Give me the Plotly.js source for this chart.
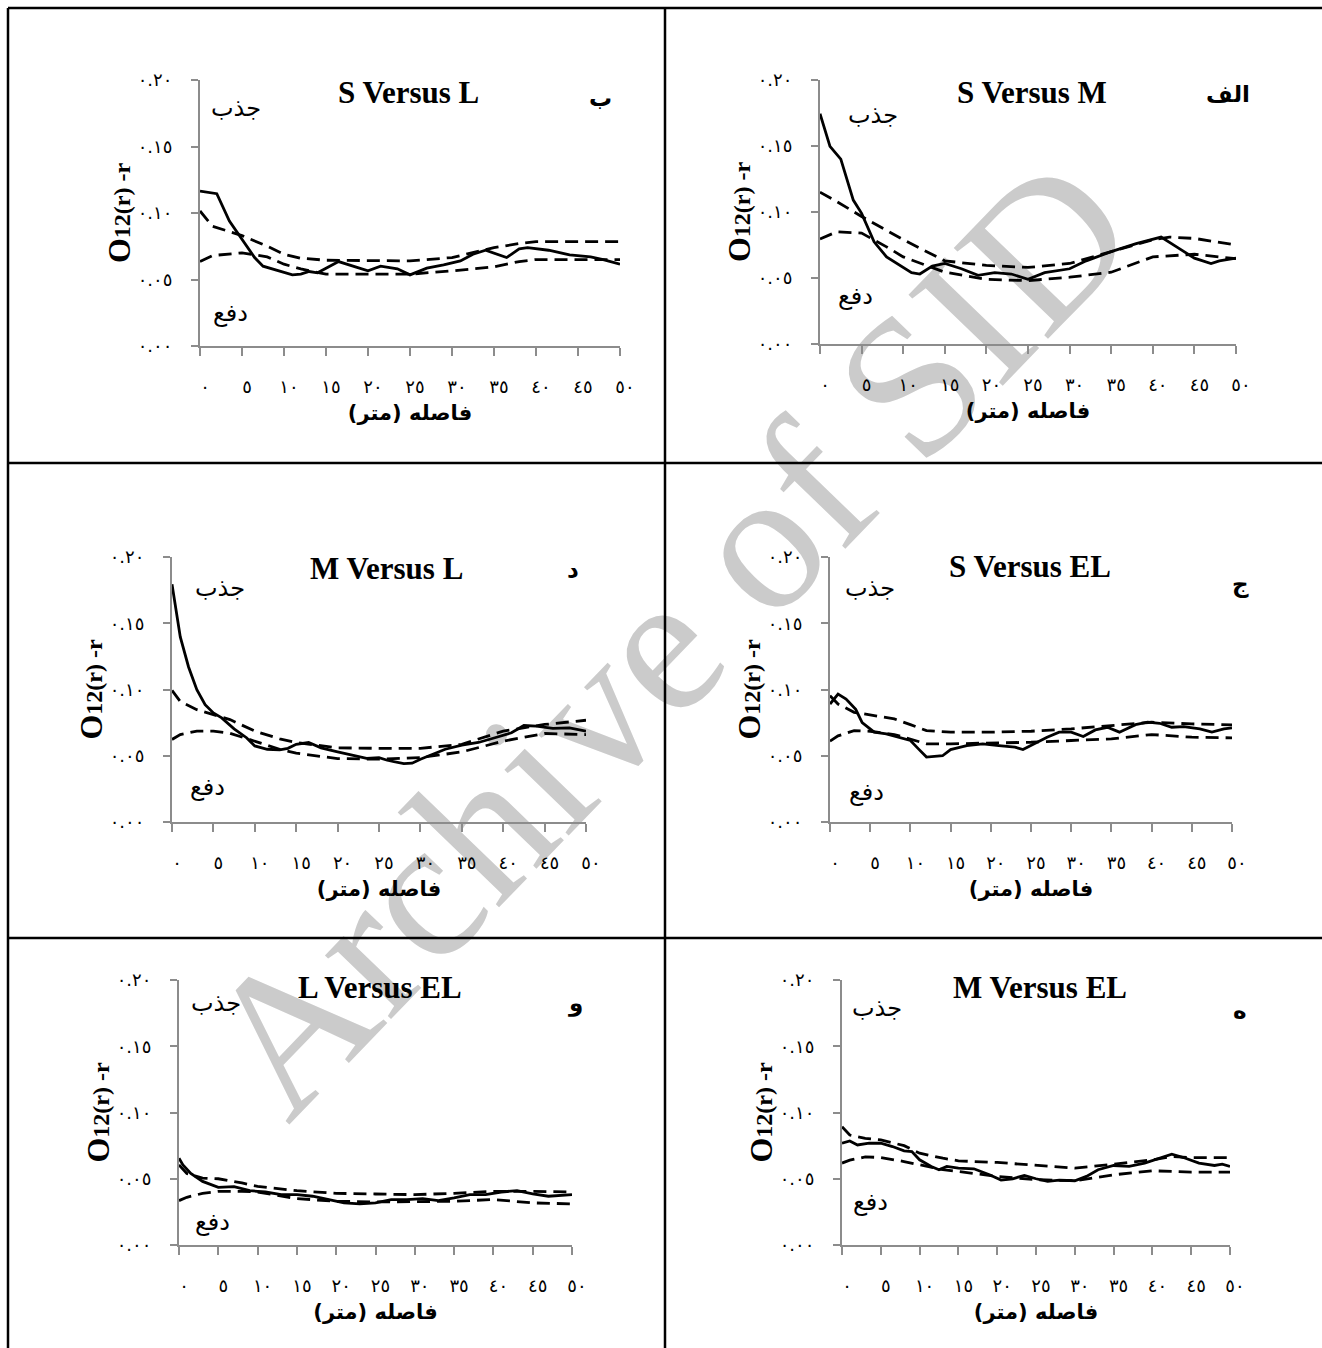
<!DOCTYPE html>
<html>
<head>
<meta charset="utf-8">
<script src="https://cdn.plot.ly/plotly-3.0.1.min.js"></script>
<style>
  html, body { margin:0; padding:0; background:#fff; }
  #wm { position:absolute; left:668px; top:636px; transform: translate(-50%,-50%) rotate(-46deg);
        font-family:'Liberation Serif', serif; font-size:200px; color:#cbcbcb; white-space:nowrap; z-index:0; line-height:1; }
  #chart { position:absolute; left:0; top:0; width:1322px; height:1348px; z-index:1; }
</style>
</head>
<body>
<div id="wm">Archive of SID</div>
<div id="chart"></div>
<script>
// ---------------- DATA ----------------
const xTickVals = [0,5,10,15,20,25,30,35,40,45,50];
const xTickText = ['٠','٥','١٠','١٥','٢٠','٢٥','٣٠','٣٥','٤٠','٤٥','٥٠'];
const yTickVals = [0,0.05,0.10,0.15,0.20];
const yTickText = ['٠.٠٠','٠.٠٥','٠.١٠','٠.١٥','٠.٢٠'];

const panelTitles = ['S Versus M','S Versus L','M Versus L','S Versus EL','L Versus EL','M Versus EL'];
const panelLetters = ['الف','ب','د','ج','و','ه'];
const attractLabel = 'جذب';
const repelLabel = 'دفع';
const xTitle = 'فاصله (متر)';

// (a) S Versus M
const sm_r = [0,1.2,2.5,4,5,6.5,8,10,11,12,13.5,15,17,19,21,23,25,27,30,32,35,38,40,41,43,45,47,48,50];
const sm_obs = [0.1745,0.1497,0.140,0.109,0.099,0.0774,0.066,0.058,0.054,0.053,0.059,0.061,0.057,0.052,0.054,0.053,0.049,0.054,0.057,0.063,0.070,0.076,0.079,0.081,0.073,0.065,0.061,0.063,0.065];
const sm_env_r = [0,2,5,8,10,15,20,25,30,35,40,42,45,50];
const sm_upper = [0.115,0.108,0.0966,0.086,0.079,0.063,0.0595,0.058,0.061,0.070,0.079,0.081,0.080,0.075];
const sm_lower = [0.0795,0.085,0.084,0.0736,0.066,0.0544,0.049,0.048,0.0506,0.0544,0.066,0.067,0.068,0.0646];

// (b) S Versus L
const sl_r = [0,2,3.5,5,6.5,7.5,9,11,12,13,14,16.5,18.5,20,21.5,23.5,25,27,29,31,32.5,34,36.5,38,39,41.5,44,46.5,48,50];
const sl_obs = [0.1165,0.1145,0.094,0.080,0.0665,0.060,0.057,0.0535,0.054,0.056,0.055,0.0635,0.0595,0.0565,0.060,0.058,0.0535,0.0585,0.061,0.064,0.069,0.072,0.0665,0.073,0.074,0.072,0.0685,0.067,0.065,0.0615];
const sl_env_r = [0,1.5,5,8,10,12,15,20,25,30,35,38,40,45,50];
const sl_upper = [0.1015,0.090,0.083,0.075,0.069,0.066,0.0645,0.0645,0.064,0.0665,0.074,0.077,0.0785,0.0785,0.0785];
const sl_lower = [0.0635,0.068,0.070,0.067,0.0615,0.058,0.054,0.054,0.054,0.0565,0.0595,0.0635,0.065,0.065,0.065];

// (d) M Versus L
const ml_r = [0,1,2,3,4,5,6,7.5,9,10,11.5,13,14,15,16.5,18,20,22,23.5,25,26,28,29,30,31,33,35,37,39,41,42.5,44,46,48,50];
const ml_obs = [0.1795,0.1397,0.117,0.0998,0.0885,0.0823,0.0786,0.0703,0.0636,0.0574,0.0549,0.0544,0.0556,0.0586,0.060,0.056,0.053,0.050,0.048,0.0486,0.0466,0.044,0.0444,0.0474,0.050,0.0549,0.058,0.060,0.0636,0.0673,0.0728,0.0723,0.0706,0.071,0.0686];
const ml_env_r = [0,1,3,5,7,10,13,15,20,25,30,35,40,45,50];
const ml_upper = [0.0993,0.091,0.0848,0.081,0.0773,0.0686,0.0628,0.060,0.056,0.0556,0.0556,0.0586,0.0686,0.0736,0.0768];
const ml_lower = [0.0623,0.066,0.0686,0.0686,0.067,0.061,0.0549,0.0519,0.0479,0.0474,0.0486,0.0529,0.061,0.0668,0.066];

// (c) S Versus EL
const sel_r = [0,1,2,3.2,4,5.5,7,8.5,10,11,12,14,15,17,19,21,23,24,25.5,27,28.5,30,31.5,33,34.5,36,38,39.5,41,42.5,44,46,47.5,49,50];
const sel_obs = [0.089,0.0966,0.0928,0.085,0.075,0.0678,0.0665,0.064,0.0615,0.0552,0.049,0.050,0.0547,0.0577,0.059,0.0577,0.0565,0.0547,0.0595,0.064,0.0678,0.0678,0.0645,0.0695,0.0715,0.0678,0.0735,0.0753,0.0745,0.0715,0.072,0.0703,0.0678,0.0703,0.071];
const sel_env_r = [0,1,3,5,8,10,12,15,20,25,30,35,40,45,50];
const sel_upper = [0.0954,0.089,0.0828,0.0808,0.0778,0.0735,0.069,0.0678,0.0678,0.0685,0.0703,0.0728,0.0753,0.074,0.0733];
const sel_lower = [0.061,0.065,0.069,0.0685,0.066,0.0627,0.059,0.059,0.0595,0.0602,0.0615,0.0627,0.066,0.064,0.0635];

// (و) L Versus EL
const lel_r = [0,0.5,1.5,3,5,7,9,11,13,15,17,19,21,23,25,27,29,31,33,35,37,39,41,43,45,47,49,50];
const lel_obs = [0.0655,0.0605,0.054,0.048,0.0435,0.044,0.041,0.040,0.038,0.038,0.0368,0.0343,0.0318,0.031,0.0318,0.0343,0.0343,0.035,0.0335,0.0355,0.038,0.038,0.040,0.041,0.0385,0.0368,0.0375,0.038];
const lel_env_r = [0,1,3,5,8,10,15,20,25,30,35,40,45,50];
const lel_upper = [0.0605,0.054,0.0505,0.050,0.0468,0.0443,0.041,0.039,0.0385,0.038,0.039,0.0405,0.0405,0.040];
const lel_lower = [0.0335,0.036,0.039,0.0405,0.0405,0.040,0.035,0.033,0.0325,0.0325,0.033,0.0343,0.0318,0.031];

// (ه) M Versus EL
const mel_r = [0,1,2,3.5,5,6.5,8,9,10,11.5,12.5,13.5,15,17,19,20.5,22,23.5,25,26.5,28,30,31.5,33,35,37,39,41,42.5,44,46,48,49,50];
const mel_obs = [0.0768,0.0785,0.0755,0.0768,0.0768,0.0743,0.071,0.0705,0.0643,0.0593,0.0568,0.0593,0.058,0.0575,0.053,0.049,0.050,0.0525,0.050,0.048,0.049,0.0485,0.0518,0.0568,0.060,0.0593,0.0618,0.0655,0.0685,0.066,0.0618,0.060,0.061,0.0593];
const mel_env_r = [0,1,3,5,8,10,13,15,20,25,30,35,40,42.5,45,50];
const mel_upper = [0.0893,0.083,0.0805,0.0793,0.075,0.0693,0.0655,0.0635,0.0623,0.060,0.058,0.061,0.0643,0.0668,0.066,0.066];
const mel_lower = [0.0618,0.064,0.0665,0.066,0.063,0.0605,0.0568,0.0555,0.0518,0.0493,0.0485,0.053,0.056,0.0555,0.055,0.055];

// ---------------- LAYOUT ----------------
const W = 1322, H = 1348;
const fx = v => v / W;
const fy = v => 1 - v / H;

// pixel geometry of each panel (layout only)
const geo = [
  {x:[820,1236], y:[80,344],  title:[1032,92],  letter:[1228,94],  att:[873,115],  rep:[855,296]},
  {x:[200,620],  y:[80,346],  title:[408,92],   letter:[600,98],   att:[236,108],  rep:[230,313]},
  {x:[172,586],  y:[557,822], title:[386,568],  letter:[573,570],  att:[220,588],  rep:[207,787]},
  {x:[830,1232], y:[557,822], title:[1030,566], letter:[1240,584], att:[870,588],  rep:[866,792]},
  {x:[179,572],  y:[980,1245],title:[380,987],  letter:[575,1003], att:[216,1003], rep:[212,1222]},
  {x:[842,1230], y:[980,1245],title:[1040,987], letter:[1240,1010],att:[877,1008], rep:[870,1202]}
];

const series = [
  [sm_r, sm_obs, sm_env_r, sm_upper, sm_lower],
  [sl_r, sl_obs, sl_env_r, sl_upper, sl_lower],
  [ml_r, ml_obs, ml_env_r, ml_upper, ml_lower],
  [sel_r, sel_obs, sel_env_r, sel_upper, sel_lower],
  [lel_r, lel_obs, lel_env_r, lel_upper, lel_lower],
  [mel_r, mel_obs, mel_env_r, mel_upper, mel_lower]
];

const serif = 'Liberation Serif, Times New Roman, serif';
const arab = 'DejaVu Sans, Liberation Serif, serif';
const RLM = '\u200F';

const traces = [];
const layout = {
  width: W, height: H,
  margin: {l:0, r:0, t:0, b:0},
  showlegend: false,
  paper_bgcolor: 'rgba(0,0,0,0)',
  plot_bgcolor: 'rgba(0,0,0,0)',
  font: {family: serif, color: '#000'},
  shapes: [],
  annotations: []
};

const gridLine = (x0,y0,x1,y1) => ({type:'line', xref:'paper', yref:'paper',
  x0:fx(x0), y0:fy(y0), x1:fx(x1), y1:fy(y1), line:{color:'#000', width:2.5}});
layout.shapes.push(gridLine(8,8,W,8));
layout.shapes.push(gridLine(8,8,8,H));
layout.shapes.push(gridLine(665,8,665,H));
layout.shapes.push(gridLine(8,463,W,463));
layout.shapes.push(gridLine(8,938,W,938));

geo.forEach((g, i) => {
  const n = i === 0 ? '' : String(i + 1);
  const xa = 'x' + n, ya = 'y' + n;
  const [r, obs, er, up, lo] = series[i];
  traces.push({x: r, y: obs, xaxis: xa, yaxis: ya, mode: 'lines', type: 'scatter',
    line: {color: '#000', width: 2.8}, hoverinfo: 'skip'});
  traces.push({x: er, y: up, xaxis: xa, yaxis: ya, mode: 'lines', type: 'scatter',
    line: {color: '#000', width: 2.8, dash: '13px,7px'}, hoverinfo: 'skip'});
  traces.push({x: er, y: lo, xaxis: xa, yaxis: ya, mode: 'lines', type: 'scatter',
    line: {color: '#000', width: 2.8, dash: '13px,7px'}, hoverinfo: 'skip'});

  layout['xaxis' + n] = {
    domain: [fx(g.x[0]), fx(g.x[1])], anchor: ya, range: [0, 50],
    showgrid: false, zeroline: false, showline: true, linecolor: '#8c8c8c', linewidth: 2,
    ticks: 'outside', ticklen: 8, tickwidth: 2, tickcolor: '#8c8c8c',
    tickmode: 'array', tickvals: xTickVals, ticktext: xTickText,
    tickfont: {family: arab, size: 18, color: '#000'},
    ticklabelstandoff: 15, ticklabelshift: 5,
    title: {text: RLM + xTitle + RLM, font: {family: arab, size: 21, color: '#000', weight: 'bold'}, standoff: 10},
    fixedrange: true
  };
  layout['yaxis' + n] = {
    domain: [fy(g.y[1]), fy(g.y[0])], anchor: xa, range: [0, 0.2],
    showgrid: false, zeroline: false, showline: true, linecolor: '#8c8c8c', linewidth: 2,
    ticks: 'outside', ticklen: 7, tickwidth: 2, tickcolor: '#8c8c8c',
    tickmode: 'array', tickvals: yTickVals, ticktext: yTickText,
    tickfont: {family: arab, size: 18, color: '#000'},
    ticklabelstandoff: 15,
    title: {text: '<span style="font-size:32px">O</span>12(r) -r', font: {family: serif, size: 24, color: '#000', weight: 'bold'}, standoff: 0},
    fixedrange: true
  };

  const ann = (pos, text, font) => ({
    xref: 'paper', yref: 'paper', x: fx(pos[0]), y: fy(pos[1]),
    xanchor: 'center', yanchor: 'middle', showarrow: false, text: text, font: font
  });
  layout.annotations.push(ann(g.title, panelTitles[i], {family: serif, size: 31, color: '#000', weight: 'bold'}));
  layout.annotations.push(ann(g.letter, panelLetters[i], {family: arab, size: 23, color: '#000', weight: 'bold'}));
  layout.annotations.push(ann(g.att, attractLabel, {family: arab, size: 24, color: '#000'}));
  layout.annotations.push(ann(g.rep, repelLabel, {family: arab, size: 24, color: '#000'}));
});

Plotly.newPlot('chart', traces, layout, {staticPlot: true, displayModeBar: false});
</script>
</body>
</html>
